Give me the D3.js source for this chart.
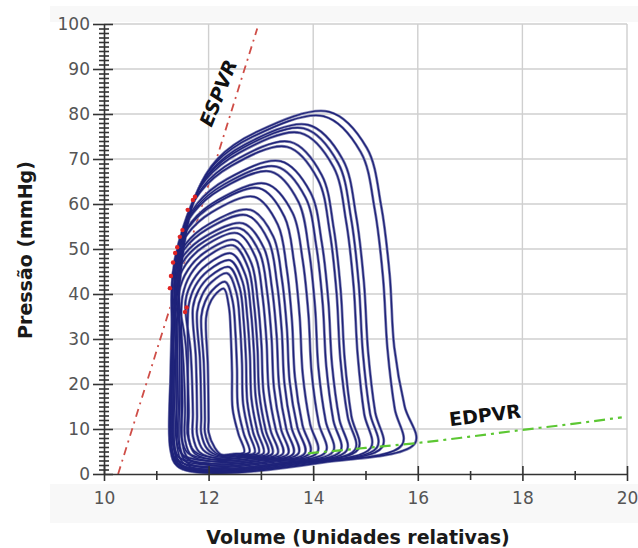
<!DOCTYPE html>
<html><head><meta charset="utf-8">
<script src="https://cdn.jsdelivr.net/npm/d3@7"></script>
<style>html,body{margin:0;padding:0;background:#fff;} svg{display:block;}</style>
</head><body>
<svg id="chart" width="638" height="548"></svg>
<script>
// ---- axis ticks ----
const xTicks = [10, 12, 14, 16, 18, 20];
const xMinorTicks = [11, 13, 15, 17, 19];
const yTicks = [0, 10, 20, 30, 40, 50, 60, 70, 80, 90, 100];

// ---- PV loops (largest -> smallest) ----
const loopEDV  = [15.95, 15.7, 15.32, 15.22, 15.1, 14.86, 14.8, 14.64, 14.52, 14.38, 14.24, 14.08, 13.94, 13.84, 13.72, 13.62, 13.52, 13.42, 13.32, 13.22, 13.14, 13.05, 12.96, 12.88, 12.78, 12.68];
const loopEDP  = [6.9, 6.5, 6.0, 5.9, 5.8, 5.5, 5.4, 5.2, 5.1, 5.0, 4.9, 4.8, 4.7, 4.6, 4.6, 4.5, 4.5, 4.5, 4.5, 4.5, 4.6, 4.6, 4.7, 4.7, 4.8, 4.8];
const loopRightV = [15.55, 15.42, 15.05, 14.95, 14.85, 14.6, 14.52, 14.36, 14.25, 14.1, 13.97, 13.8, 13.65, 13.55, 13.45, 13.35, 13.25, 13.15, 13.05, 12.97, 12.9, 12.82, 12.74, 12.66, 12.56, 12.46];
const loopPeakV = [14.3, 14.2, 13.9, 13.82, 13.75, 13.56, 13.5, 13.38, 13.3, 13.19, 13.1, 12.97, 12.87, 12.8, 12.73, 12.66, 12.6, 12.55, 12.5, 12.47, 12.44, 12.41, 12.39, 12.36, 12.32, 12.29];
const loopPeakP = [80.5, 79.5, 77.6, 76.8, 75.8, 73.8, 72.7, 69.5, 68.3, 67.2, 64.5, 63.5, 61.6, 58.7, 57.5, 55.7, 54.6, 53.5, 52.0, 50.8, 49.0, 47.5, 46.0, 44.6, 42.7, 41.2];
const loopESV  = [11.76, 11.72, 11.68, 11.64, 11.6, 11.56, 11.52, 11.48, 11.45, 11.42, 11.4, 11.37, 11.35, 11.33, 11.32, 11.32, 11.34, 11.38, 11.44, 11.5, 11.56, 11.62, 11.7, 11.78, 11.86, 11.95];
const loopESP  = [62, 61, 59.5, 58.5, 57.5, 56, 55, 53, 52, 51, 49.5, 48.5, 47, 45.5, 44.5, 43.5, 42.5, 41.5, 40.5, 39.5, 38.5, 37.5, 37, 36, 35, 34.5];
const loopLeftV = [11.3, 11.28, 11.34, 11.27, 11.36, 11.3, 11.28, 11.4, 11.29, 11.45, 11.32, 11.27, 11.5, 11.33, 11.42, 11.3, 11.55, 11.38, 11.62, 11.48, 11.7, 11.6, 11.78, 11.86, 11.93, 12.0];
const loopMinP = [0.2, 0.3, 0.4, 0.5, 0.6, 0.7, 0.8, 0.9, 1.0, 1.2, 1.4, 1.6, 1.8, 2.0, 2.2, 2.4, 2.6, 2.8, 3.0, 3.2, 3.4, 3.6, 3.8, 4.0, 4.2, 4.3];

// ---- end-systolic points (red) ----
const esDotV = [11.74, 11.7, 11.6, 11.5, 11.45, 11.4, 11.36, 11.32, 11.28, 11.26, 11.58, 11.55];
const esDotP = [61.6, 60.9, 58.7, 54.2, 52.7, 50.4, 49.1, 47, 44, 41.3, 37, 36];

// ---- relations ----
const espvrV = [10.27, 12.93];
const espvrP = [0, 99];
const edpvrV = [13.9, 15, 16, 17, 18, 19, 19.9];
const edpvrP = [4.6, 5.8, 6.9, 8.3, 9.8, 11.2, 12.6];

const svg = d3.select("#chart");
const x = d3.scaleLinear().domain([10, 20]).range([104, 627]);
const y = d3.scaleLinear().domain([0, 100]).range([474, 24]);

// faint background bands
svg.append("rect").attr("x", 50).attr("y", 6).attr("width", 588).attr("height", 16).attr("fill", "#f8f8f8");
svg.append("rect").attr("x", 50).attr("y", 484).attr("width", 588).attr("height", 39).attr("fill", "#f8f8f8");

// grid
const grid = svg.append("g").attr("stroke", "#cfcfcf").attr("stroke-width", 1.4);
yTicks.filter(d => d > 0).forEach(d => grid.append("line").attr("x1", x(10)).attr("x2", x(20)).attr("y1", y(d)).attr("y2", y(d)));
xTicks.filter(d => d > 10).forEach(d => grid.append("line").attr("x1", x(d)).attr("x2", x(d)).attr("y1", y(0)).attr("y2", y(100)));

// ESPVR
const lineGen = d3.line().x(d => x(d[0])).y(d => y(d[1]));
svg.append("path").datum(espvrV.map((v, i) => [v, espvrP[i]]))
  .attr("d", lineGen).attr("fill", "none").attr("stroke", "#cf4d47")
  .attr("stroke-width", 1.8).attr("stroke-dasharray", "8,5,2,5");

// loops
function loopPoints(i) {
  const E = loopEDV[i], Ep = loopEDP[i], R = loopRightV[i], Pm = loopPeakP[i], Pv = loopPeakV[i];
  const S = loopESV[i], Sp = loopESP[i], L = loopLeftV[i], Bm = loopMinP[i];
  const Bx = L + Math.min(0.7, 0.35 * (E - L));
  const Fx = Bx + 0.55 * (E - Bx), Fp = Bm + 0.35 * (Ep - Bm);
  return [
    [E, Ep],
    [R + 0.5 * (E - R), Ep + 0.1 * Pm],
    [R, 0.35 * Pm],
    [Pv + 0.93 * (R - Pv), 0.55 * Pm],
    [Pv + 0.8 * (R - Pv), 0.74 * Pm],
    [Pv + 0.58 * (R - Pv), 0.9 * Pm],
    [Pv, Pm],
    [S + 0.46 * (Pv - S), Sp + 0.76 * (Pm - Sp)],
    [S + 0.16 * (Pv - S), Sp + 0.43 * (Pm - Sp)],
    [S, Sp],
    [L + 0.3 * (S - L), 0.7 * Sp],
    [L, 0.35 * Sp],
    [L, Bm + 5],
    [L + 0.12, Bm + 1.5],
    [Bx, Bm],
    [Fx, Fp]
  ];
}
const loopLine = d3.line().x(d => x(d[0])).y(d => y(d[1])).curve(d3.curveCatmullRomClosed.alpha(0.5));
const loopData = loopEDV.map((_, i) => loopPoints(i));
const gl = svg.append("g").attr("fill", "none");
gl.selectAll("path.halo").data(loopData).join("path").attr("class", "halo")
  .attr("d", loopLine).attr("stroke", "#8587b5").attr("stroke-width", 2.8);
gl.selectAll("path.core").data(loopData).join("path").attr("class", "core")
  .attr("d", loopLine).attr("stroke", "#1f237a").attr("stroke-width", 1.4);

// red end-systolic dots
svg.append("g").selectAll("circle").data(esDotV.map((v, i) => [v, esDotP[i]])).join("circle")
  .attr("cx", d => x(d[0])).attr("cy", d => y(d[1])).attr("r", 2.2).attr("fill", "#e02424");

// EDPVR
svg.append("path").datum(edpvrV.map((v, i) => [v, edpvrP[i]]))
  .attr("d", lineGen.curve(d3.curveMonotoneX)).attr("fill", "none").attr("stroke", "#5cc733")
  .attr("stroke-width", 2.2).attr("stroke-dasharray", "11,5,3,5");

// axes
const axisColor = "#333";
function styleAxis(g) {
  g.selectAll("path.domain").attr("stroke", axisColor).attr("stroke-width", 1.6);
  g.selectAll(".tick line").attr("stroke", axisColor).attr("stroke-width", 1.6);
  g.selectAll("text").attr("font-family", "DejaVu Sans").attr("font-size", 17).attr("fill", "#555");
}
svg.append("g").attr("transform", `translate(${x(10)},0)`)
  .call(d3.axisLeft(y).tickValues(yTicks).tickSizeInner(11).tickSizeOuter(0).tickPadding(3))
  .call(styleAxis);
svg.append("g").attr("transform", `translate(${x(10)},0)`)
  .call(d3.axisLeft(y).tickValues(yTicks).tickSizeInner(-9).tickSizeOuter(0).tickFormat(""))
  .call(styleAxis).select("path.domain").remove();
const yMinor = d3.range(1, 100).filter(d => d % 10 !== 0);
svg.append("g").attr("transform", `translate(${x(10)},0)`)
  .call(d3.axisLeft(y).tickValues(yMinor).tickSizeInner(5).tickSizeOuter(0).tickFormat(""))
  .call(styleAxis).select("path.domain").remove();
svg.append("g").attr("transform", `translate(${x(10)},0)`)
  .call(d3.axisLeft(y).tickValues(yMinor).tickSizeInner(-5).tickSizeOuter(0).tickFormat(""))
  .call(styleAxis).select("path.domain").remove();

svg.append("g").attr("transform", `translate(0,${y(0)})`)
  .call(d3.axisBottom(x).tickValues(xTicks).tickSizeInner(7).tickSizeOuter(0).tickPadding(11))
  .call(styleAxis);
svg.append("g").attr("transform", `translate(0,${y(0)})`)
  .call(d3.axisBottom(x).tickValues(xTicks).tickSizeInner(-8).tickSizeOuter(0).tickFormat(""))
  .call(styleAxis).select("path.domain").remove();
svg.append("g").attr("transform", `translate(0,${y(0)})`)
  .call(d3.axisBottom(x).tickValues(xMinorTicks).tickSizeInner(6).tickSizeOuter(0).tickFormat(""))
  .call(styleAxis).select("path.domain").remove();
svg.append("g").attr("transform", `translate(0,${y(0)})`)
  .call(d3.axisBottom(x).tickValues(xMinorTicks).tickSizeInner(-3).tickSizeOuter(0).tickFormat(""))
  .call(styleAxis).select("path.domain").remove();

// titles
svg.append("text").attr("x", 358).attr("y", 544).attr("text-anchor", "middle")
  .attr("font-family", "DejaVu Sans").attr("font-weight", "bold").attr("font-size", 19).attr("fill", "#1a1a1a")
  .text("Volume (Unidades relativas)");
svg.append("text").attr("transform", "translate(32,250) rotate(-90)").attr("text-anchor", "middle")
  .attr("font-family", "DejaVu Sans").attr("font-weight", "bold").attr("font-size", 19).attr("fill", "#1a1a1a")
  .text("Pressão (mmHg)");

// relation labels
svg.append("text").attr("transform", "translate(218,93) rotate(-68)").attr("text-anchor", "middle")
  .attr("dominant-baseline", "central")
  .attr("font-family", "DejaVu Sans").attr("font-weight", "bold").attr("font-style", "italic")
  .attr("font-size", 19).attr("fill", "#111").text("ESPVR");
svg.append("text").attr("transform", "translate(485,415) rotate(-7)").attr("text-anchor", "middle")
  .attr("dominant-baseline", "central")
  .attr("font-family", "DejaVu Sans").attr("font-weight", "bold")
  .attr("font-size", 19).attr("fill", "#111").text("EDPVR");
</script>
</body></html>
